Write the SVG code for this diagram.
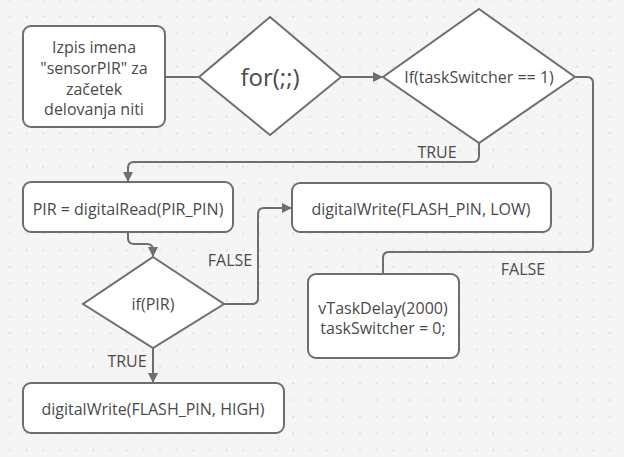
<svg xmlns="http://www.w3.org/2000/svg" width="624" height="457" viewBox="0 0 624 457">
<defs>
<pattern id="dots" patternUnits="userSpaceOnUse" x="1.667" y="-8.333" width="16.667" height="16.667">
<circle cx="8.333" cy="8.333" r="1" fill="#d6d6d6"/>
</pattern>
<marker id="arr" markerWidth="10" markerHeight="10" refX="9" refY="5" orient="auto" markerUnits="userSpaceOnUse">
<path d="M0,0 L10,5 L0,10 Z" fill="#6e6e6e"/>
</marker>
<style>
.shape{fill:#ffffff;stroke:#6e6e6e;stroke-width:2}
.t{font-family:"Open Sans","Liberation Sans",sans-serif;font-size:16px;fill:#4a4a4a;text-anchor:middle}
.c{fill:none;stroke:#6e6e6e;stroke-width:2}
</style>
</defs>
<rect width="624" height="457" fill="#f5f5f5"/>
<rect width="624" height="457" fill="url(#dots)"/>

<g id="connectors">
<path class="c" d="M165,77 H199"/>
<path class="c" d="M341,77 H382" marker-end="url(#arr)"/>
<path class="c" d="M479,143 V156 Q479,162 473,162 H134 Q128,162 128,168 V181" marker-end="url(#arr)"/>
<path class="c" d="M575,77 H587 Q593,77 593,83 V246 Q593,252 587,252 H389 Q383,252 383,258 V274"/>
<path class="c" d="M128,232 V238 Q128,244 134,244 H147 Q153,244 153,250 V256" marker-end="url(#arr)"/>
<path class="c" d="M224,304 H252 Q258,304 258,298 V214 Q258,208 264,208 H291" marker-end="url(#arr)"/>
<path class="c" d="M153,348 V382" marker-end="url(#arr)"/>
<text class="t" x="437" y="158">TRUE</text>
<text class="t" x="523" y="275">FALSE</text>
<text class="t" x="230" y="266">FALSE</text>
<text class="t" x="127" y="367">TRUE</text>
</g>

<g id="n-izpis">
<rect class="shape" x="23" y="26" width="142" height="101" rx="8"/>
<text class="t" x="94" y="53">Izpis imena</text>
<text class="t" x="94" y="74">"sensorPIR" za</text>
<text class="t" x="94" y="95">začetek</text>
<text class="t" x="94" y="115">delovanja niti</text>
</g>

<g id="n-for">
<polygon class="shape" points="270,17 341,77 270,135 199,77"/>
<text class="t" x="270" y="86" style="font-size:24px">for(;;)</text>
</g>

<g id="n-if-task">
<polygon class="shape" points="479,9 575,77 479,143 383,77"/>
<text class="t" x="479" y="83">If(taskSwitcher == 1)</text>
</g>

<g id="n-read">
<rect class="shape" x="23" y="182" width="210" height="50" rx="8"/>
<text class="t" x="128" y="215">PIR = digitalRead(PIR_PIN)</text>
</g>

<g id="n-low">
<rect class="shape" x="292" y="183" width="259" height="49" rx="8"/>
<text class="t" x="421" y="215">digitalWrite(FLASH_PIN, LOW)</text>
</g>

<g id="n-ifpir">
<polygon class="shape" points="153,257 224,304 153,348 83,304"/>
<text class="t" x="153" y="310">if(PIR)</text>
</g>

<g id="n-delay">
<rect class="shape" x="308" y="274" width="151" height="84" rx="8"/>
<text class="t" x="383" y="314">vTaskDelay(2000)</text>
<text class="t" x="383" y="334">taskSwitcher = 0;</text>
</g>

<g id="n-high">
<rect class="shape" x="23" y="383" width="261" height="50" rx="8"/>
<text class="t" x="153" y="415">digitalWrite(FLASH_PIN, HIGH)</text>
</g>
</svg>
